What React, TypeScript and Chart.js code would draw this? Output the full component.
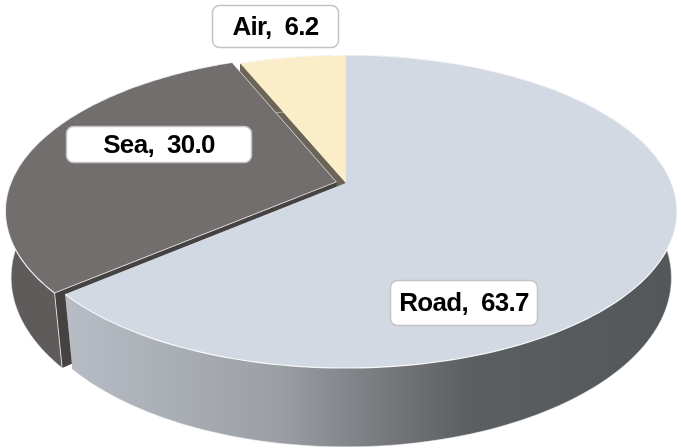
import { useEffect, useRef } from "react";
import { Chart, registerables } from "chart.js";

Chart.register(...registerables);

const categories = ["Road", "Sea", "Air"];
const shares = [63.7, 30.0, 6.2];
const sliceOffsets = [0, 10, 0];
const topColors = ["#d3d9e2", "#736e6e", "#faedc8"];
const cutFaceColors = ["#8e9299", "#464242", "#6b6557"];
const wallStops: [number, string][][] = [
  [[0, "#b8bdc5"], [0.35, "#9b9ea5"], [0.52, "#77797d"], [0.66, "#5c5f62"], [1, "#53575a"]],
  [[0, "#605b5b"], [1, "#5c5757"]],
  [[0, "#6b6557"], [1, "#6b6557"]],
];
const labelBoxes = [
  { left: 390, top: 280, right: 538, bottom: 326 },
  { left: 66, top: 126, right: 252, bottom: 163 },
  { left: 212, top: 5, right: 339, bottom: 48 },
];

// Disc projection: the upper plane and the lower plane each have their own
// width ratio, depth ratio, perspective strength and vertical drop
const upperPlane = { width: 1, depth: 0.465, perspective: 0.182, drop: 0 };
const lowerPlane = { width: 0.986, depth: 0.505, perspective: 0.165, drop: 67 };
const STEPS = 160;

const tiltedPie = {
  id: "tiltedPie",
  beforeDatasetDraw(chart: any) {
    const ctx: CanvasRenderingContext2D = chart.ctx;
    const arcs: any[] = chart.getDatasetMeta(0).data;

    const drawSlice = (arc: any, i: number) => {
      const { startAngle: s, endAngle: e, outerRadius: R, x: cx, y: cy } = arc;
      const offset = arc.options.offset || 0;
      const mid = (s + e) / 2;
      const ou = (Math.cos(mid) * offset) / R;
      const ov = (Math.sin(mid) * offset) / R;
      const project = (u: number, v: number, plane: typeof upperPlane): [number, number] => {
        const w = 1 - plane.perspective * v;
        return [cx + (R * plane.width * u) / w, cy + plane.drop + (R * plane.depth * v) / w];
      };
      const rim = (a: number, plane: typeof upperPlane) =>
        project(ou + Math.cos(a), ov + Math.sin(a), plane);
      const apex = (plane: typeof upperPlane) => project(ou, ov, plane);
      const trace = (pts: [number, number][]) => {
        ctx.beginPath();
        pts.forEach(([x, y], k) => (k ? ctx.lineTo(x, y) : ctx.moveTo(x, y)));
      };
      const topRim: [number, number][] = [];
      const lowRim: [number, number][] = [];
      for (let k = 0; k <= STEPS; k++) {
        const a = s + ((e - s) * k) / STEPS;
        topRim.push(rim(a, upperPlane));
        lowRim.push(rim(a, lowerPlane));
      }

      // Radial cut faces
      ctx.fillStyle = cutFaceColors[i];
      for (const a of [s, e]) {
        trace([apex(upperPlane), rim(a, upperPlane), rim(a, lowerPlane), apex(lowerPlane)]);
        ctx.closePath();
        ctx.fill();
      }

      // Outer wall, shaded left to right
      const gradient = ctx.createLinearGradient(65, 0, 677, 0);
      wallStops[i].forEach(([p, c]) => gradient.addColorStop(p, c));
      ctx.fillStyle = gradient;
      trace([...topRim, ...[...lowRim].reverse()]);
      ctx.closePath();
      ctx.fill();
      trace(lowRim);
      ctx.strokeStyle = "rgba(235,238,240,0.55)";
      ctx.lineWidth = 1;
      ctx.stroke();

      // Flat top
      ctx.fillStyle = arc.options.backgroundColor;
      trace([apex(upperPlane), ...topRim]);
      ctx.closePath();
      ctx.fill();

      // Bevel highlights
      ctx.strokeStyle = "rgba(255,255,255,0.85)";
      ctx.lineWidth = 1.2;
      trace(topRim);
      ctx.stroke();
      if (offset > 0) {
        ctx.strokeStyle = "rgba(255,255,255,0.7)";
        ctx.lineWidth = 1;
        trace([topRim[topRim.length - 1], apex(upperPlane), topRim[0]]);
        ctx.stroke();
        trace([topRim[0], rim(s, lowerPlane)]);
        ctx.stroke();
      }
    };

    // Back slices first so the nearer ones cover their hidden faces
    for (let i = arcs.length - 1; i >= 0; i--) drawSlice(arcs[i], i);
    return false;
  },
  afterDatasetsDraw(chart: any) {
    const ctx: CanvasRenderingContext2D = chart.ctx;
    const labels: string[] = chart.data.labels;
    const values: number[] = chart.data.datasets[0].data;
    ctx.save();
    labels.forEach((name, i) => {
      const b = labelBoxes[i];
      ctx.beginPath();
      ctx.roundRect(b.left + 0.5, b.top + 0.5, b.right - b.left - 1, b.bottom - b.top - 1, 7);
      ctx.fillStyle = "#ffffff";
      ctx.fill();
      ctx.strokeStyle = "#c4c4c4";
      ctx.lineWidth = 1.5;
      ctx.stroke();
      ctx.fillStyle = "#000000";
      ctx.font = 'bold 26px "Liberation Sans", Arial, sans-serif';
      (ctx as any).letterSpacing = "-0.7px";
      ctx.textAlign = "center";
      ctx.textBaseline = "middle";
      ctx.fillText(`${name},  ${values[i].toFixed(1)}`, (b.left + b.right) / 2, (b.top + b.bottom) / 2 + 1);
    });
    ctx.restore();
  },
};

export default function App() {
  const ref = useRef<HTMLCanvasElement>(null);
  useEffect(() => {
    const chart = new Chart(ref.current!, {
      type: "pie",
      data: {
        labels: categories,
        datasets: [{ data: shares, backgroundColor: topColors, offset: sliceOffsets, borderWidth: 0 }],
      },
      options: {
        animation: false,
        responsive: false,
        radius: 325.5,
        layout: { padding: { left: 11, bottom: 82 } },
        plugins: { legend: { display: false }, tooltip: { enabled: false } },
      } as any,
      plugins: [tiltedPie],
    });
    return () => chart.destroy();
  }, []);
  return (
    <canvas
      ref={ref}
      width={681}
      height={448}
      style={{ position: "absolute", left: 0, top: 0, display: "block" }}
    />
  );
}
